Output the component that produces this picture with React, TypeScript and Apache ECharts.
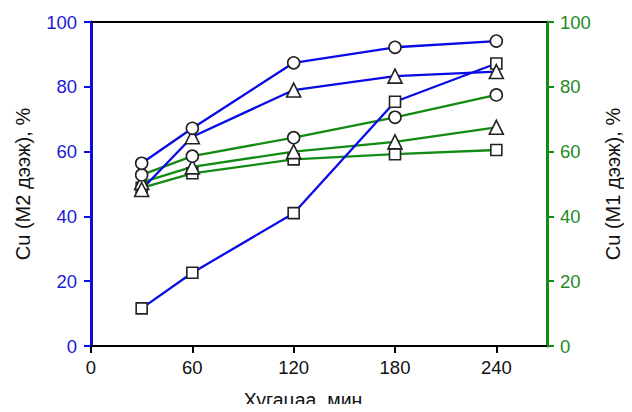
import React, { useEffect, useRef } from "react";
import * as echarts from "echarts";

const times = [30, 60, 120, 180, 240];
const xTicks = [0, 60, 120, 180, 240];

// M2 (left axis, blue)
const m2Circle = [56.4, 67.2, 87.4, 92.2, 94.1];
const m2Triangle = [48.3, 64.6, 79.0, 83.3, 84.7];
const m2Square = [11.6, 22.6, 41.0, 75.4, 87.2];

// M1 (right axis, green)
const m1Circle = [52.8, 58.6, 64.3, 70.6, 77.5];
const m1Triangle = [50.5, 55.3, 60.0, 63.0, 67.5];
const m1Square = [48.8, 53.3, 57.6, 59.2, 60.5];

const BLUE = "#0a0ae6";
const BLUE_TXT = "#1c1cd2";
const GREEN = "#138a13";
const GREEN_TXT = "#1f8a1f";
const FONT = "'Liberation Sans', Arial, sans-serif";

const pairs = (ys: number[]) => times.map((t, i) => [t, ys[i]]);

export default function App() {
  const ref = useRef<HTMLDivElement>(null);
  useEffect(() => {
    if (!ref.current) return;
    const chart = echarts.init(ref.current, undefined, { renderer: "svg" });
    const mk = (name: string, data: number[], color: string, symbol: string, size: number, yIdx: number) => ({
      name,
      type: "line",
      yAxisIndex: yIdx,
      xAxisIndex: 0,
      data: pairs(data),
      symbol,
      symbolSize: size,
      showAllSymbol: true,
      lineStyle: { color, width: 2.3 },
      itemStyle: { color: "#ffffff", borderColor: "#222", borderWidth: 1.6 },
      emphasis: { disabled: true },
    });
    chart.setOption({
      animation: false,
      backgroundColor: "#ffffff",
      textStyle: { fontFamily: FONT },
      grid: { left: 91, right: 85, top: 22, bottom: 66 },
      xAxis: [
        {
          type: "value",
          min: 0,
          max: 270,
          interval: 60,
          axisLine: { show: true, onZero: false, lineStyle: { color: "#000", width: 2 } },
          axisTick: { show: true, length: 7, lineStyle: { color: "#000", width: 2 }, customValues: xTicks },
          axisLabel: {
            color: "#111",
            fontSize: 18.5,
            fontFamily: FONT,
            margin: 12,
            customValues: xTicks,
          },
          splitLine: { show: false },
        },
        {
          type: "value",
          position: "top",
          min: 0,
          max: 270,
          axisLine: { show: true, onZero: false, lineStyle: { color: "#000", width: 2 } },
          axisTick: { show: false },
          axisLabel: { show: false },
          splitLine: { show: false },
        },
      ],
      yAxis: [
        {
          type: "value",
          min: 0,
          max: 100,
          interval: 20,
          position: "left",
          name: "Cu (M2 дээж), %",
          nameLocation: "middle",
          nameGap: 58,
          nameRotate: 90,
          nameTextStyle: { color: "#111", fontSize: 20, fontFamily: FONT },
          axisLine: { show: true, onZero: false, lineStyle: { color: BLUE, width: 3 } },
          axisTick: { show: true, length: 7, lineStyle: { color: BLUE, width: 2 } },
          axisLabel: { color: BLUE_TXT, fontSize: 18.5, fontFamily: FONT, margin: 14 },
          splitLine: { show: false },
        },
        {
          type: "value",
          min: 0,
          max: 100,
          interval: 20,
          position: "right",
          name: "Cu (M1 дээж), %",
          nameLocation: "middle",
          nameGap: 56,
          nameRotate: 90,
          nameTextStyle: { color: "#111", fontSize: 20, fontFamily: FONT },
          axisLine: { show: true, onZero: false, lineStyle: { color: GREEN, width: 3 } },
          axisTick: { show: true, length: 7, lineStyle: { color: GREEN, width: 2 } },
          axisLabel: { color: GREEN_TXT, fontSize: 18.5, fontFamily: FONT, margin: 13 },
          splitLine: { show: false },
        },
      ],
      graphic: [
        {
          type: "text",
          x: 303,
          y: 400,
          style: {
            text: "Хугацаа, мин",
            fontSize: 19.5,
            fontFamily: FONT,
            fill: "#111",
            align: "center",
            verticalAlign: "middle",
          },
        },
      ],
      series: [
        mk("M1 square", m1Square, GREEN, "rect", 11, 1),
        mk("M1 triangle", m1Triangle, GREEN, "triangle", 14, 1),
        mk("M1 circle", m1Circle, GREEN, "circle", 12, 1),
        mk("M2 square", m2Square, BLUE, "rect", 11, 0),
        mk("M2 triangle", m2Triangle, BLUE, "triangle", 14, 0),
        mk("M2 circle", m2Circle, BLUE, "circle", 12, 0),
      ],
    });
    return () => chart.dispose();
  }, []);
  return (
    <div style={{ margin: -8 }}>
      <div ref={ref} style={{ width: 632, height: 412 }} />
    </div>
  );
}
